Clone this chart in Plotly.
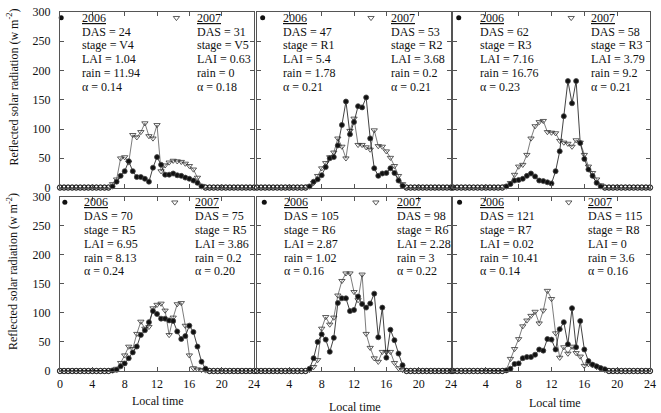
import plotly.graph_objects as go

# ---------------- data ----------------
hours = [0, 0.5, 1, 1.5, 2, 2.5, 3, 3.5, 4, 4.5, 5, 5.5, 6, 6.5, 7, 7.5, 8, 8.5, 9, 9.5,
         10, 10.5, 11, 11.5, 12, 12.5, 13, 13.5, 14, 14.5, 15, 15.5, 16, 16.5, 17, 17.5,
         18, 18.5, 19, 19.5, 20, 20.5, 21, 21.5, 22, 22.5, 23, 23.5, 24]

p1_2006 = [0,0,0,0,0,0,0,0,0,0,0,0,0, 2,10,20,28,45,28,18,18,15,10,34,52,39,22,22,24,21,20,17,15,12,8,2, 0,0,0,0,0,0,0,0,0,0,0,0,0]
p1_2007 = [0,0,0,0,0,0,0,0,0,0,0,0,0, 6,14,50,52,43,90,86,95,110,88,84,107,28,38,43,46,45,44,41,37,31,17,3, 0,0,0,0,0,0,0,0,0,0,0,0,0]
p2_2006 = [0,0,0,0,0,0,0,0,0,0,0,0,0, 2,10,14,21,35,50,52,72,107,147,91,112,139,137,154,84,33,20,24,25,33,25,12,3, 0,0,0,0,0,0,0,0,0,0,0,0]
p2_2007 = [0,0,0,0,0,0,0,0,0,0,0,0,0, 2,8,20,33,42,52,60,84,70,50,97,118,73,73,69,65,98,71,70,62,51,37,20,6, 0,0,0,0,0,0,0,0,0,0,0,0]
p3_2006 = [0,0,0,0,0,0,0,0,0,0,0,0,0, 2,6,12,13,15,20,24,19,12,11,9,7,28,62,122,182,144,182,76,49,31,20,8,2, 0,0,0,0,0,0,0,0,0,0,0,0]
p3_2007 = [0,0,0,0,0,0,0,0,0,0,0,0,0, 2,8,22,36,39,56,84,105,112,114,95,94,93,80,77,75,70,81,77,56,36,25,14,4, 0,0,0,0,0,0,0,0,0,0,0,0]
p4_2006 = [0,0,0,0,0,0,0,0,0,0,0,0,0, 1,2,8,13,22,32,42,62,70,84,103,98,90,90,87,86,68,55,60,78,67,42,16,4, 0,0,0,0,0,0,0,0,0,0,0,0]
p4_2007 = [0,0,0,0,0,0,0,0,0,0,0,0,0, 1,4,14,27,42,38,64,85,73,76,108,114,116,104,62,92,115,117,78,27,5,3,2,1, 0,0,0,0,0,0,0,0,0,0,0,0]
p5_2006 = [0,0,0,0,0,0,0,0,0,0,0,0,0, 4,22,50,63,54,33,57,117,125,125,103,105,128,115,109,116,133,58,109,23,71,53,30,10, 0,0,0,0,0,0,0,0,0,0,0,0]
p5_2007 = [0,0,0,0,0,0,0,0,0,0,0,0,0, 2,7,19,73,93,80,92,130,155,168,168,136,122,166,64,40,22,16,33,33,33,14,5,2, 0,0,0,0,0,0,0,0,0,0,0,0]
p6_2006 = [0,0,0,0,0,0,0,0,0,0,0,0,0, 1,4,12,13,22,24,24,28,37,35,55,54,37,72,84,46,108,41,86,37,17,11,8,5,3, 0,0,0,0,0,0,0,0,0,0,0]
p6_2007 = [0,0,0,0,0,0,0,0,0,0,0,0,0, 2,21,38,55,77,87,95,102,82,104,138,124,65,23,41,30,42,31,25,9,12,10,7,4,2, 0,0,0,0,0,0,0,0,0,0,0]

series_2006 = [p1_2006, p2_2006, p3_2006, p4_2006, p5_2006, p6_2006]
series_2007 = [p1_2007, p2_2007, p3_2007, p4_2007, p5_2007, p6_2007]

das_2006 = ["24", "47", "62", "70", "105", "121"]
stage_2006 = ["V4", "R1", "R3", "R5", "R6", "R7"]
lai_2006 = ["1.04", "5.4", "7.16", "6.95", "2.87", "0.02"]
rain_2006 = ["11.94", "1.78", "16.76", "8.13", "1.02", "10.41"]
alpha_2006 = ["0.14", "0.21", "0.23", "0.24", "0.16", "0.14"]

das_2007 = ["31", "53", "58", "75", "98", "115"]
stage_2007 = ["V5", "R2", "R3", "R5", "R6", "R8"]
lai_2007 = ["0.63", "3.68", "3.79", "3.86", "2.28", "0"]
rain_2007 = ["0", "0.2", "9.2", "0.2", "3", "3.6"]
alpha_2007 = ["0.18", "0.21", "0.21", "0.20", "0.22", "0.16"]

x_ticks = [0, 4, 8, 12, 16, 20, 24]
y_ticks = [0, 50, 100, 150, 200, 250, 300]

# ---------------- layout / style ----------------
FONT = "Liberation Serif, Times New Roman, serif"
FRAME = "#555555"
INK = "#111111"

x_domains = [[0.0, 0.3289], [0.3339, 0.6628], [0.6661, 1.0]]
y_domains = [[0.511, 1.0], [0.0, 0.486]]

# legend-key / text positions per panel (hours)
key06_x = [0.15, 0.7, 0.7, 0.6, 0.9, 0.8]
txt06_x = [2.5, 3.0, 3.0, 2.7, 3.1, 3.0]
key07_x = [14.4, 14.1, 14.4, 14.2, 14.7, 14.1]
txt07_x = [16.7, 16.3, 16.6, 16.4, 17.1, 16.2]
HEAD_Y = 290
LINE_PX = 13.8


def symbols(vals, sym):
    # points lying on the baseline are drawn as small open rings, as in the source figure
    return ["circle-open" if v == 0 else sym for v in vals]


fig = go.Figure()
annotations = []

for k in range(6):
    n = k + 1
    xa = "x" if n == 1 else f"x{n}"
    ya = "y" if n == 1 else f"y{n}"
    row = 0 if k < 3 else 1
    col = k % 3

    fig.add_trace(go.Scatter(
        x=hours, y=series_2007[k], xaxis=xa, yaxis=ya, mode="lines+markers",
        line=dict(color="#444444", width=0.7),
        marker=dict(symbol=symbols(series_2007[k], "triangle-down-open"), size=5.5,
                    color="#333333", line=dict(width=0.8)),
        cliponaxis=False, showlegend=False))
    fig.add_trace(go.Scatter(
        x=hours, y=series_2006[k], xaxis=xa, yaxis=ya, mode="lines+markers",
        line=dict(color=INK, width=0.8),
        marker=dict(symbol=symbols(series_2006[k], "circle"), size=5, color=INK,
                    line=dict(width=0.8)),
        cliponaxis=False, showlegend=False))
    # keys
    fig.add_trace(go.Scatter(x=[key06_x[k]], y=[HEAD_Y], xaxis=xa, yaxis=ya, mode="markers",
                             marker=dict(symbol="circle", size=5, color=INK),
                             cliponaxis=False, showlegend=False))
    fig.add_trace(go.Scatter(x=[key07_x[k]], y=[HEAD_Y], xaxis=xa, yaxis=ya, mode="markers",
                             marker=dict(symbol="triangle-down-open", size=5.5, color="#333333",
                                         line=dict(width=0.8)),
                             cliponaxis=False, showlegend=False))

    lines06 = ["<u>2006</u>", f"DAS = {das_2006[k]}", f"stage = {stage_2006[k]}",
               f"LAI = {lai_2006[k]}", f"rain = {rain_2006[k]}", f"α = {alpha_2006[k]}"]
    lines07 = ["<u>2007</u>", f"DAS = {das_2007[k]}", f"stage = {stage_2007[k]}",
               f"LAI = {lai_2007[k]}", f"rain = {rain_2007[k]}", f"α = {alpha_2007[k]}"]
    for tx, lines in ((txt06_x[k], lines06), (txt07_x[k], lines07)):
        for i, t in enumerate(lines):
            annotations.append(dict(
                x=tx, y=HEAD_Y, xref=xa, yref=ya, text=t, showarrow=False,
                xanchor="left", yanchor="middle", yshift=-LINE_PX * i,
                font=dict(family=FONT, size=12, color=INK)))

    axis_common = dict(showline=True, linecolor=FRAME, linewidth=1, mirror="ticks",
                       ticks="inside", ticklen=4, tickcolor=FRAME, showgrid=False,
                       zeroline=False, tickfont=dict(family=FONT, size=12, color=INK))
    xkey = "xaxis" if n == 1 else f"xaxis{n}"
    ykey = "yaxis" if n == 1 else f"yaxis{n}"
    if row == 1:
        if col == 0:
            tv, tt = x_ticks, [str(v) for v in x_ticks]
        else:
            tv, tt = x_ticks, [""] + [str(v) for v in x_ticks[1:]]
        xlab = True
    else:
        tv, tt = x_ticks, [str(v) for v in x_ticks]
        xlab = False
    fig.layout[xkey] = dict(domain=x_domains[col], range=[0, 24], anchor=ya,
                            tickvals=tv, ticktext=tt, showticklabels=xlab,
                            ticklabelstandoff=2, **axis_common)
    fig.layout[ykey] = dict(domain=y_domains[row], range=[0, 300], anchor=xa,
                            tickvals=y_ticks, showticklabels=(col == 0),
                            ticklabelstandoff=6, **axis_common)

# y-axis titles
for yp in (0.791, 0.277):
    annotations.append(dict(x=-0.0805, y=yp, xref="paper", yref="paper",
                            text="Reflected solar radiation (w m<sup>-2</sup>)",
                            textangle=-90, showarrow=False, xanchor="center", yanchor="middle",
                            font=dict(family=FONT, size=12, color=INK)))
# x-axis titles
for xp, yp in ((0.166, -0.083), (0.5, -0.099), (0.839, -0.088)):
    annotations.append(dict(x=xp, y=yp, xref="paper", yref="paper", text="Local time",
                            showarrow=False, xanchor="center", yanchor="middle",
                            font=dict(family=FONT, size=12, color=INK)))

fig.update_layout(width=661, height=413, margin=dict(l=60, r=5, t=7, b=42),
                  paper_bgcolor="white", plot_bgcolor="white",
                  annotations=annotations, showlegend=False)

fig.write_html("out.html")
